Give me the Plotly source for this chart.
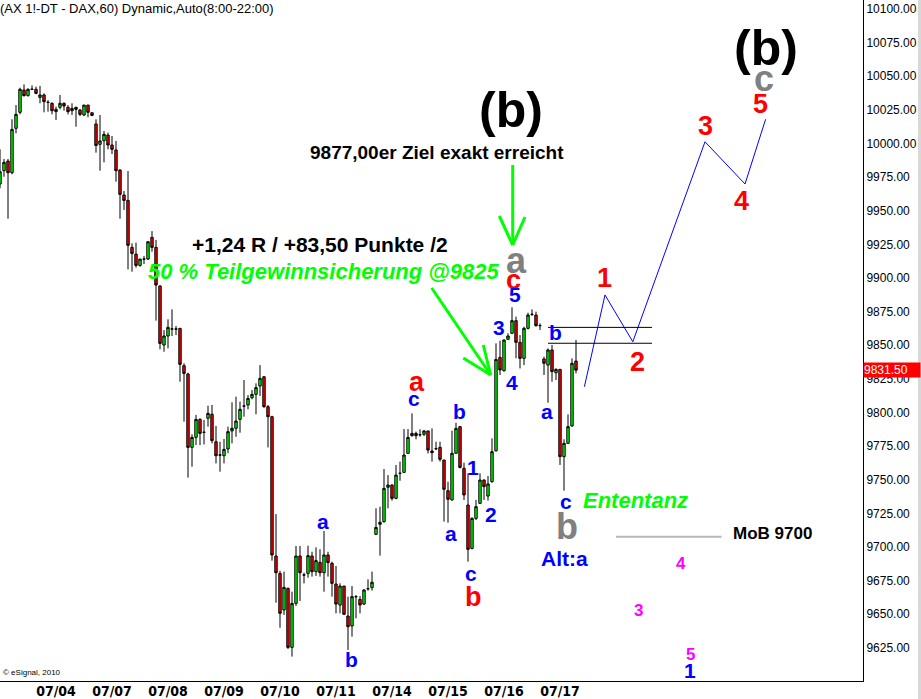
import plotly.graph_objects as go

# DAX future, 60 min bars, 8:00-22:00 (14 bars per trading day), 03.07. - 17.07.
day_labels = ["07/04", "07/07", "07/08", "07/09", "07/10", "07/11", "07/14", "07/15", "07/16", "07/17"]
day_first_bar = [14, 28, 42, 56, 70, 84, 98, 112, 126, 140]

bar_open = [
    9969.9, 9979.8, 9987.0, 9978.3, 10011.3, 10023.2, 10039.8, 10035.6, 10040.3, 10040.3,
    10034.3, 10036.1, 10030.6, 10029.9, 10023.7, 10026.9, 10029.9, 10026.9, 10024.4, 10026.9,
    10024.9, 10021.2, 10028.6, 10022.9, 10014.5, 9999.4, 10002.1, 10006.3, 9998.9, 9995.2,
    9980.3, 9961.7, 9957.7, 9922.8, 9917.8, 9909.4, 9914.1, 9914.1, 9930.2, 9922.8,
    9894.1, 9850.2, 9856.9, 9862.1, 9862.1, 9862.6, 9834.8, 9828.6, 9774.1, 9781.5,
    9794.9, 9785.3, 9795.7, 9798.7, 9778.3, 9768.4, 9767.9, 9772.9, 9786.3, 9788.3,
    9794.9, 9804.8, 9805.6, 9811.0, 9813.5, 9819.7, 9826.6, 9804.3, 9796.9, 9693.3,
    9680.4, 9653.2, 9669.3, 9625.4, 9658.1, 9693.3, 9679.2, 9680.4, 9693.3, 9681.7,
    9688.6, 9680.9, 9694.1, 9687.9, 9672.5, 9656.9, 9671.0, 9648.7, 9641.3, 9663.1,
    9661.1, 9657.6, 9669.0, 9669.8, 9709.4, 9716.9, 9718.9, 9744.4, 9746.1, 9736.2,
    9754.8, 9755.5, 9769.6, 9782.8, 9784.5, 9783.5, 9783.8, 9786.3, 9771.4, 9773.1,
    9774.1, 9764.7, 9741.9, 9735.0, 9769.7, 9789.5, 9758.5, 9731.2, 9699.0, 9721.3,
    9732.5, 9749.8, 9737.9, 9748.6, 9771.6, 9841.0, 9831.1, 9854.4, 9858.9, 9868.3,
    9852.2, 9840.3, 9862.6, 9873.0, 9872.5, 9864.6, 9839.8, 9835.3, 9846.5, 9829.6,
    9832.1, 9767.2, 9777.1, 9790.0, 9838.3,
]
bar_high = [
    9995.7, 9988.5, 9988.5, 10018.0, 10028.6, 10041.5, 10044.0, 10041.0, 10043.2, 10042.3,
    10042.8, 10037.3, 10032.3, 10030.6, 10027.4, 10036.1, 10030.6, 10028.6, 10029.9, 10027.4,
    10025.7, 10028.6, 10028.6, 10022.9, 10018.0, 10021.2, 10009.3, 10008.1, 10005.6, 10001.9,
    9980.8, 9964.7, 9979.5, 9925.8, 9926.3, 9914.1, 9916.4, 9927.5, 9934.9, 9928.3,
    9894.5, 9861.3, 9869.3, 9876.7, 9864.3, 9862.8, 9836.6, 9829.6, 9783.8, 9798.2,
    9795.7, 9794.4, 9805.1, 9805.6, 9790.0, 9778.3, 9780.3, 9789.5, 9807.6, 9811.8,
    9808.1, 9824.2, 9813.0, 9816.7, 9821.7, 9835.3, 9827.1, 9805.6, 9797.6, 9724.5,
    9682.4, 9681.7, 9669.8, 9666.8, 9700.8, 9700.8, 9680.9, 9701.0, 9696.5, 9699.8,
    9698.3, 9711.9, 9696.5, 9689.1, 9685.9, 9673.0, 9671.0, 9663.1, 9671.0, 9664.3,
    9663.6, 9668.5, 9676.0, 9681.7, 9728.8, 9730.0, 9758.0, 9753.5, 9746.6, 9761.0,
    9763.5, 9787.7, 9787.7, 9799.4, 9785.8, 9787.5, 9787.0, 9786.3, 9788.2, 9778.3,
    9778.3, 9764.7, 9748.6, 9786.5, 9792.4, 9790.0, 9762.7, 9754.8, 9722.1, 9735.0,
    9754.8, 9750.3, 9752.8, 9780.8, 9851.4, 9853.4, 9854.4, 9858.9, 9878.2, 9871.3,
    9857.6, 9863.8, 9874.2, 9876.7, 9875.0, 9866.3, 9841.5, 9847.7, 9850.2, 9832.8,
    9832.1, 9780.1, 9798.6, 9840.3, 9853.9,
]
bar_low = [
    9966.7, 9975.3, 9944.1, 9977.1, 10007.6, 10021.7, 10034.9, 10034.9, 10039.8, 10036.6,
    10029.9, 10023.2, 10023.7, 10021.7, 10017.5, 10025.4, 10024.4, 10021.7, 10021.2, 10012.5,
    10020.4, 10020.4, 10019.5, 10020.4, 9993.2, 9979.8, 9986.0, 9995.7, 9992.2, 9971.6,
    9944.1, 9950.6, 9906.4, 9904.7, 9907.7, 9908.4, 9910.4, 9913.4, 9919.6, 9868.3,
    9847.0, 9845.2, 9847.7, 9856.9, 9857.6, 9822.9, 9793.2, 9751.6, 9759.7, 9775.8,
    9775.8, 9776.3, 9789.5, 9777.1, 9762.2, 9756.0, 9762.2, 9769.7, 9777.1, 9782.0,
    9785.0, 9796.9, 9802.4, 9809.8, 9798.7, 9812.3, 9803.6, 9774.1, 9689.9, 9658.6,
    9640.0, 9649.5, 9624.2, 9618.5, 9656.2, 9659.9, 9673.0, 9677.2, 9678.0, 9678.5,
    9678.0, 9666.8, 9678.0, 9663.1, 9650.7, 9650.7, 9649.5, 9623.5, 9633.4, 9647.0,
    9650.7, 9656.9, 9667.6, 9667.6, 9708.9, 9693.6, 9718.1, 9728.8, 9734.5, 9735.5,
    9749.3, 9755.3, 9769.1, 9782.0, 9780.1, 9782.0, 9782.5, 9769.6, 9763.5, 9772.1,
    9763.5, 9718.9, 9718.1, 9734.5, 9769.2, 9758.5, 9735.0, 9689.1, 9698.3, 9720.1,
    9732.0, 9735.0, 9734.5, 9747.8, 9770.9, 9827.9, 9830.4, 9853.9, 9858.4, 9840.3,
    9832.8, 9835.3, 9861.8, 9871.7, 9863.8, 9861.3, 9827.9, 9807.3, 9822.9, 9824.2,
    9761.0, 9741.9, 9776.6, 9789.5, 9829.1,
]
bar_close = [
    9979.0, 9986.0, 9978.3, 10010.5, 10021.7, 10040.3, 10035.6, 10040.3, 10040.3, 10037.3,
    10036.1, 10031.1, 10030.6, 10024.4, 10025.4, 10029.9, 10027.9, 10023.7, 10026.1, 10025.4,
    10021.7, 10028.6, 10023.2, 10020.9, 9998.6, 10001.9, 10006.8, 9998.9, 9995.7, 9979.8,
    9962.2, 9957.7, 9924.3, 9918.3, 9909.4, 9914.1, 9914.1, 9927.0, 9922.8, 9894.8,
    9851.4, 9856.9, 9863.3, 9862.1, 9862.1, 9835.8, 9829.1, 9774.1, 9781.5, 9794.9,
    9784.5, 9785.3, 9799.4, 9779.1, 9767.9, 9768.4, 9772.6, 9785.8, 9788.3, 9793.7,
    9802.4, 9804.8, 9810.5, 9813.5, 9818.5, 9825.4, 9804.3, 9796.9, 9694.1, 9680.9,
    9650.7, 9670.0, 9625.4, 9658.1, 9693.3, 9680.9, 9679.2, 9693.6, 9681.7, 9689.9,
    9680.9, 9694.1, 9688.4, 9673.0, 9657.6, 9671.0, 9650.0, 9640.8, 9663.1, 9663.1,
    9656.9, 9668.1, 9669.0, 9673.8, 9714.6, 9718.4, 9743.6, 9746.1, 9736.2, 9753.5,
    9754.8, 9768.4, 9781.5, 9784.5, 9782.8, 9783.5, 9786.3, 9772.1, 9770.2, 9773.1,
    9765.2, 9742.9, 9735.5, 9769.7, 9788.2, 9759.2, 9738.7, 9698.3, 9721.3, 9730.0,
    9749.8, 9744.9, 9746.9, 9770.9, 9839.5, 9831.6, 9853.9, 9856.9, 9868.3, 9852.2,
    9840.3, 9862.6, 9872.5, 9873.0, 9864.6, 9864.6, 9836.6, 9846.5, 9830.4, 9832.1,
    9767.2, 9777.1, 9789.5, 9836.6, 9831.5,
]
last_price = 9831.50

# projected wave path 1-2-3-4-5 (bar index, price)
proj_bar = [146.1, 151.25, 158.2, 176.25, 186.25, 191.4]
proj_price = [9819.2, 9887.4, 9852.6, 10001.3, 9969.9, 10018.0]

# horizontal levels
b_levels = [9863.3, 9851.5]
b_level_bars = [137, 163]
mob_level = 9707.7
mob_level_bars = [154, 180.4]

ytick_vals = [9625, 9650, 9675, 9700, 9725, 9750, 9775, 9800, 9825, 9850,
              9875, 9900, 9925, 9950, 9975, 10000, 10025, 10050, 10075, 10100]

# plot frame: 863 x 681 px, 4 px per bar
PLOT_W, PLOT_H = 863, 681
X_MAX = PLOT_W / 4.0
Y_TOP = 10106.7
Y_BOT = 9600.4


def px_x(px):
    return px / 4.0


def px_y(py):
    return Y_TOP - py * (Y_TOP - Y_BOT) / PLOT_H


ARIAL = "Liberation Sans, Arial, sans-serif"
BLUE, RED, GRAY, MAG, GREEN = "#0000ff", "#ff0000", "#808080", "#ff00ff", "#00ff00"

fig = go.Figure()

fig.add_trace(go.Candlestick(
    x=list(range(len(bar_open))),
    open=bar_open, high=bar_high, low=bar_low, close=bar_close,
    increasing=dict(fillcolor="#00ff00", line=dict(color="black", width=1)),
    decreasing=dict(fillcolor="#ff0000", line=dict(color="black", width=1)),
    whiskerwidth=0,
    hoverinfo="skip",
))

fig.add_trace(go.Scatter(
    x=proj_bar, y=proj_price, mode="lines",
    line=dict(color=BLUE, width=1), hoverinfo="skip",
))

for lv in b_levels:
    fig.add_trace(go.Scatter(
        x=b_level_bars, y=[lv, lv], mode="lines",
        line=dict(color="black", width=1), hoverinfo="skip",
    ))

fig.add_trace(go.Scatter(
    x=mob_level_bars, y=[mob_level, mob_level], mode="lines",
    line=dict(color="#b8b8b8", width=2), hoverinfo="skip",
))

# wave labels: text, px x, px y, colour, size
labels = [
    ("(b)", 511, 110, "black", 50),
    ("(b)", 766, 48, "black", 50),
    ("c", 764, 78, GRAY, 36),
    ("5", 760.5, 104, RED, 27),
    ("3", 705, 126, RED, 27),
    ("4", 741, 201, RED, 27),
    ("1", 604, 278, RED, 27),
    ("2", 637, 362, RED, 27),
    ("a", 516, 260, GRAY, 36),
    ("c", 513, 280, RED, 27),
    ("5", 515, 294, BLUE, 21),
    ("3", 499, 327, BLUE, 21),
    ("4", 512, 382, BLUE, 21),
    ("b", 555, 332, BLUE, 21),
    ("a", 547, 411, BLUE, 21),
    ("c", 566, 501, BLUE, 21),
    ("b", 567, 526, GRAY, 36),
    ("Alt:a", 564, 558, BLUE, 21),
    ("a", 417, 382, RED, 27),
    ("c", 414, 398, BLUE, 21),
    ("b", 459, 411, BLUE, 21),
    ("1", 473, 467, BLUE, 21),
    ("2", 491, 514, BLUE, 21),
    ("a", 451, 533, BLUE, 21),
    ("c", 471, 573, BLUE, 21),
    ("b", 473, 597, RED, 27),
    ("a", 322.5, 521, BLUE, 21),
    ("b", 351, 659, BLUE, 21),
    ("4", 681, 563, MAG, 17),
    ("3", 638, 610, MAG, 17),
    ("5", 690, 654, MAG, 17),
    ("1", 690, 670, BLUE, 21),
]

notes = [
    ("9877,00er Ziel exakt erreicht", 437, 152, "black", 19, "normal"),
    ("+1,24 R / +83,50 Punkte /2", 320, 244, "black", 21, "normal"),
    ("50 % Teilgewinnsicherung @9825", 324, 271, GREEN, 22, "italic"),
    ("Ententanz", 635.5, 500, GREEN, 22, "italic"),
    ("MoB 9700", 772.4, 533, "black", 17, "normal"),
]

annotations = []
for txt, x, y, col, size in labels:
    annotations.append(dict(
        x=px_x(x), y=px_y(y), xref="x", yref="y", text=txt, showarrow=False,
        xanchor="center", yanchor="middle",
        font=dict(family=ARIAL, size=size, color=col, weight="bold"),
    ))
for txt, x, y, col, size, style in notes:
    annotations.append(dict(
        x=px_x(x), y=px_y(y), xref="x", yref="y", text=txt, showarrow=False,
        xanchor="center", yanchor="middle",
        font=dict(family=ARIAL, size=size, color=col, weight="bold", style=style),
    ))

annotations.append(dict(
    x=0, y=1, xref="paper", yref="paper", xanchor="left", yanchor="top",
    text="(AX 1!-DT - DAX,60) Dynamic,Auto(8:00-22:00)", showarrow=False,
    font=dict(family=ARIAL, size=13, color="black"), xshift=-2, yshift=1,
))
annotations.append(dict(
    x=0, y=0, xref="paper", yref="paper", xanchor="left", yanchor="bottom",
    text="© eSignal, 2010", showarrow=False,
    font=dict(family=ARIAL, size=8, color="black"), xshift=1, yshift=2,
))
annotations.append(dict(
    x=1, y=last_price, xref="paper", yref="y", xanchor="left", yanchor="middle",
    text=f"{last_price:.2f}", showarrow=False, bgcolor="#ff0000",
    font=dict(family=ARIAL, size=12, color="white"), borderpad=0,
    width=56, align="left",
))

# green arrows (shaft + two head strokes), pixel positions
arrows = [
    [((512.7, 165), (512.7, 245)), ((499.3, 216), (512.7, 245)), ((525, 217), (512.7, 245))],
    [((431.7, 288), (490.7, 375)), ((463.3, 358), (490.7, 375)), ((483.3, 345), (490.7, 375))],
]
shapes = []
for arrow in arrows:
    for (x0, y0), (x1, y1) in arrow:
        shapes.append(dict(
            type="line", xref="x", yref="y",
            x0=px_x(x0), y0=px_y(y0), x1=px_x(x1), y1=px_y(y1),
            line=dict(color=GREEN, width=3),
        ))
shapes.append(dict(
    type="rect", xref="paper", yref="paper", x0=918 / PLOT_W, x1=1.08, y0=-0.03, y1=1,
    fillcolor="#d8d8d8", line=dict(width=0), layer="below",
))

fig.update_layout(
    width=921, height=699,
    margin=dict(l=0, r=921 - PLOT_W, t=0, b=699 - PLOT_H),
    paper_bgcolor="white", plot_bgcolor="white",
    showlegend=False, boxgap=0.15,
    annotations=annotations, shapes=shapes,
    xaxis=dict(
        range=[0, X_MAX], tickvals=day_first_bar, ticktext=day_labels,
        showgrid=False, zeroline=False, showline=True, linecolor="black", linewidth=1,
        ticks="", rangeslider=dict(visible=False), automargin=False,
        ticklabelstandoff=-3,
        tickfont=dict(family="Liberation Sans Narrow, DejaVu Sans Condensed, Arial Narrow, sans-serif",
                      size=14, color="black", weight="bold"),
    ),
    yaxis=dict(
        side="right", range=[Y_BOT, Y_TOP], tickvals=ytick_vals,
        ticktext=[f"{v:.2f}" for v in ytick_vals],
        showgrid=False, zeroline=False, showline=True, linecolor="black", linewidth=1,
        ticks="", automargin=False,
        tickfont=dict(family=ARIAL, size=12, color="black"),
    ),
)

# page has a default 8px body margin; remove it so the chart sits at the window corner
fig.write_html(
    "out.html",
    config={"displayModeBar": False},
    post_script="document.body.style.margin='0';",
)
